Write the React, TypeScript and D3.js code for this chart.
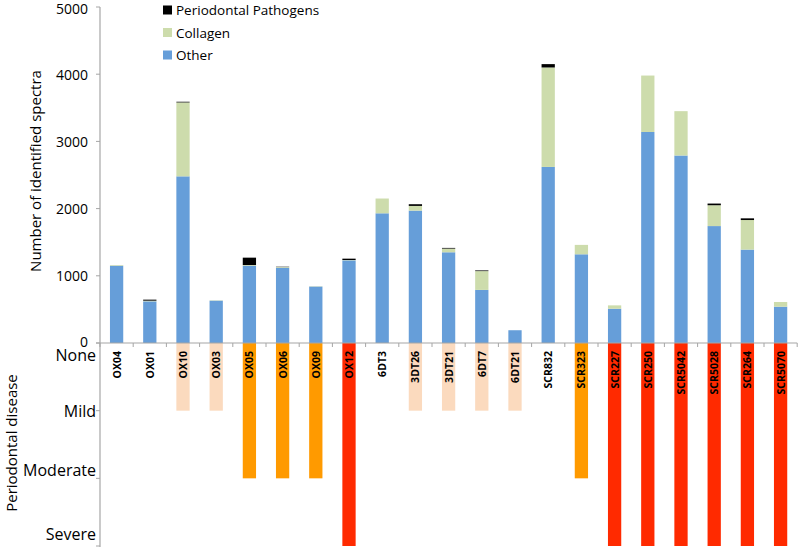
import React from "react";
import * as d3 from "d3";

const samples = ["OX04","OX01","OX10","OX03","OX05","OX06","OX09","OX12","6DT3","3DT26","3DT21","6DT7","6DT21","SCR832","SCR323","SCR227","SCR250","SCR5042","SCR5028","SCR264","SCR5070"];
const other =     [1150, 620, 2480, 630, 1150, 1120, 840, 1230, 1930, 1970, 1350, 790, 190, 2620, 1320, 510, 3140, 2790, 1740, 1390, 540];
const collagen =  [10, 10, 1100, 5, 10, 10, 5, 5, 220, 70, 55, 280, 0, 1480, 140, 50, 840, 660, 310, 440, 70];
const pathogens = [0, 15, 10, 0, 110, 5, 0, 20, 0, 25, 10, 10, 0, 50, 0, 0, 0, 0, 25, 25, 0];
const disease =   [0, 0, 1, 1, 2, 2, 2, 3, 0, 1, 1, 1, 1, 0, 2, 3, 3, 3, 3, 3, 3];
const yTicks = [0, 1000, 2000, 3000, 4000, 5000];
const diseaseLevels = ["None", "Mild", "Moderate", "Severe"];
const seriesNames = ["Periodontal Pathogens", "Collagen", "Other"];

const W = 800, H = 548;
const FONT = "'Open Sans', 'DejaVu Sans', sans-serif";
const seriesColors: Record<string, string> = { Other: "#669ED9", Collagen: "#CDDCAC", "Periodontal Pathogens": "#000000" };
const diseaseColors = ["#FFFFFF", "#FBDABE", "#FF9A00", "#FF2A00"];
const levelLabelDy = [12, 0, -8, -12];

export default function App() {
  const x = d3.scaleBand<string>().domain(samples).range([100, 797.2]).paddingInner(0.6).paddingOuter(0.3);
  const y = d3.scaleLinear().domain([0, 5000]).range([343, 7]);
  const dy = d3.scaleLinear().domain([0, 3]).range([343, 546]);
  const step = x.step();
  const bw = x.bandwidth();

  const rows = samples.map((s, i) => ({ sample: s, Other: other[i], Collagen: collagen[i], "Periodontal Pathogens": pathogens[i] }));
  const stack = d3.stack<any>().keys(["Other", "Collagen", "Periodontal Pathogens"]);
  const layers = stack(rows);

  const boundaries = d3.range(samples.length + 1).map((i) => 100 + i * step);

  return (
    <svg width={W} height={H} style={{ position: "absolute", left: 0, top: 0, background: "#fff" }} fontFamily={FONT}>
      {samples.map((s, i) =>
        disease[i] > 0 ? (
          <rect key={"d" + s} x={x(s)} y={dy(0)} width={bw} height={dy(disease[i]) - dy(0)} fill={diseaseColors[disease[i]]} />
        ) : null
      )}
      {layers.map((layer) => (
        <g key={layer.key} fill={seriesColors[layer.key]}>
          {layer.map((d, i) =>
            d[1] - d[0] > 0 ? (
              <rect key={i} x={x(samples[i])} y={y(d[1])} width={bw} height={y(d[0]) - y(d[1])} />
            ) : null
          )}
        </g>
      ))}
      <line x1={100} x2={boundaries[boundaries.length - 1]} y1={y(0)} y2={y(0)} stroke="#A6A6A6" strokeWidth={1.2} />
      {boundaries.map((b, i) => (
        <line key={"xt" + i} x1={b} x2={b} y1={y(0)} y2={y(0) + 4} stroke="#A6A6A6" />
      ))}
      <line x1={100} x2={100} y1={y(5000)} y2={dy(3) + 1} stroke="#A6A6A6" strokeWidth={1.2} />
      {yTicks.map((t) => (
        <g key={"yt" + t}>
          <line x1={96} x2={100} y1={y(t)} y2={y(t)} stroke="#A6A6A6" />
          <text x={88} y={y(t) + (t === 0 ? -2 : t === 5000 ? 1 : 0)} textAnchor="end" dominantBaseline="central" fontSize={14} fill="#000">{t}</text>
        </g>
      ))}
      {diseaseLevels.map((lv, i) => (
        <g key={"lv" + lv}>
          <line x1={96} x2={100} y1={dy(i)} y2={dy(i)} stroke="#A6A6A6" />
          <text x={96} y={dy(i) + levelLabelDy[i]} textAnchor="end" dominantBaseline="central" fontSize={16} fill="#000">{lv}</text>
        </g>
      ))}
      {samples.map((s) => (
        <text key={"l" + s} transform={`translate(${(x(s) as number) + bw / 2},${351}) rotate(-90)`} textAnchor="end" dominantBaseline="central" fontSize={10.5} fontWeight="bold" fill="#000">{s}</text>
      ))}
      <text transform="translate(35,171) rotate(-90)" textAnchor="middle" dominantBaseline="central" fontSize={15} fill="#000">Number of identified spectra</text>
      <text transform="translate(11,443) rotate(-90)" textAnchor="middle" dominantBaseline="central" fontSize={15} fill="#000">Periodontal disease</text>
      {seriesNames.map((n, i) => (
        <g key={"lg" + n} transform={`translate(163,${10 + i * 22.5})`}>
          <rect x={0} y={-4.5} width={9} height={9} fill={seriesColors[n]} />
          <text x={13} y={0} dominantBaseline="central" fontSize={13.5} fill="#000">{n}</text>
        </g>
      ))}
    </svg>
  );
}
